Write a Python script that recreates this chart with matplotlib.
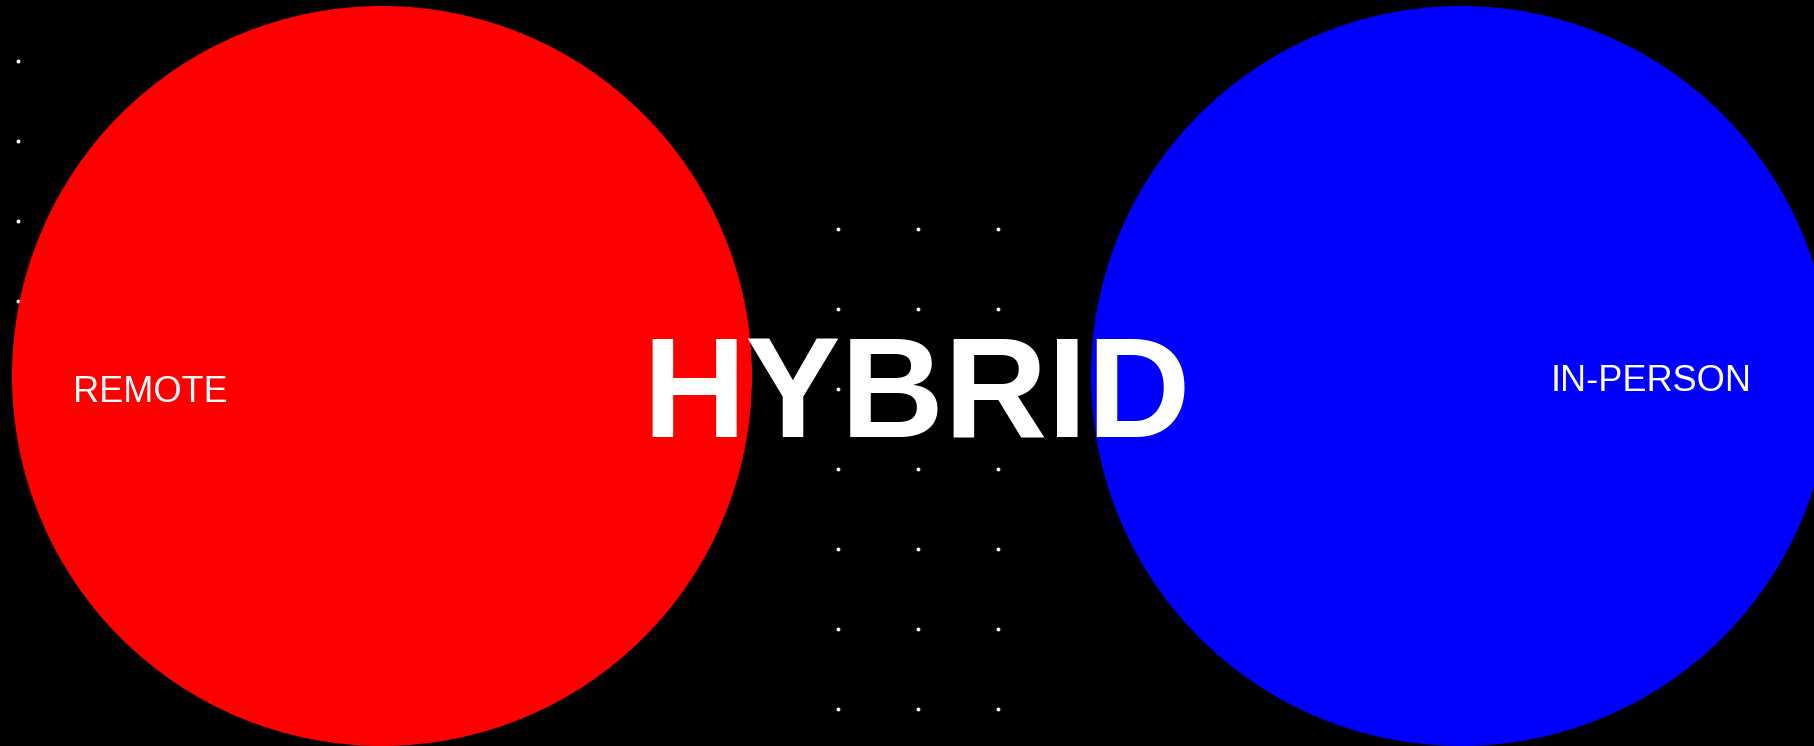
import matplotlib
matplotlib.use("Agg")
import matplotlib.pyplot as plt
from matplotlib.patches import Circle

# ---- data ----
circle_labels = ["REMOTE", "IN-PERSON"]
circle_colors = ["#FF0000", "#0000FF"]
circle_cx = [382, 1461]
circle_cy = [376, 376]
circle_r = [370, 370]

label_x = [150, 1651]
label_y = [402, 391]

center_label = "HYBRID"
center_x = 917
center_y = 437

# decorative dot grids
left_dot_x = [18]
left_dot_y = [61, 141, 221, 301]
mid_dot_x = [838, 918, 998]
mid_dot_y = [229, 309, 389, 469, 549, 629, 709]

W, H = 1814, 746
fig = plt.figure(figsize=(W / 100, H / 100), dpi=100, facecolor="black")
ax = fig.add_axes([0, 0, 1, 1])
ax.set_facecolor("black")
ax.set_xlim(0, W)
ax.set_ylim(H, 0)
ax.axis("off")

# dots (behind circles)
for xs, ys in [(left_dot_x, left_dot_y), (mid_dot_x, mid_dot_y)]:
    px = [x for x in xs for _ in ys]
    py = [y for _ in xs for y in ys]
    ax.plot(px, py, linestyle="none", marker="o", ms=2.8, mfc="white",
            mec="none", zorder=1)

for cx, cy, r, c in zip(circle_cx, circle_cy, circle_r, circle_colors):
    ax.add_patch(Circle((cx, cy), r, facecolor=c, edgecolor="none", zorder=2))

for lab, x, y in zip(circle_labels, label_x, label_y):
    ax.text(x, y, lab, color="white", fontsize=26, family="Liberation Sans",
            ha="center", va="baseline", zorder=4)

ax.text(center_x, center_y, center_label, color="white", fontsize=103,
        family="Liberation Sans", fontweight="bold", ha="center",
        va="baseline", zorder=5)

fig.savefig("out.png", dpi=100, facecolor="black")
